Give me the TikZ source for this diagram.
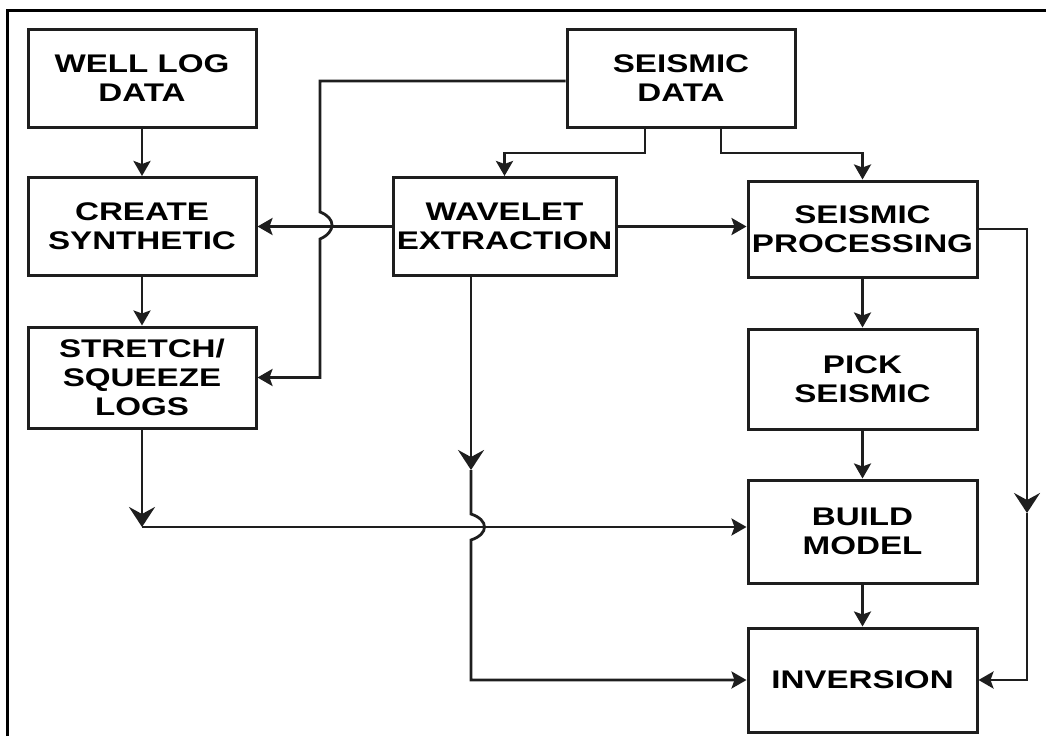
\documentclass[tikz,border=0pt]{standalone}
\usepackage{fontspec}
\newfontfamily\bfont[FakeStretch=1.3]{Liberation Sans}
\usetikzlibrary{arrows.meta}
\definecolor{boxcol}{HTML}{1E1E1E}
\begin{document}
\begin{tikzpicture}[x=1pt,y=-1pt,
 box/.style={draw=boxcol, line width=3pt, minimum width=228pt, minimum height=98pt, inner sep=0pt, align=center, font=\bfont\bfseries\fontsize{25.5}{29}\selectfont},
 conn/.style={draw=boxcol, line width=2.8pt},
 arr/.style={conn, -{Stealth[length=15pt,width=17pt,inset=3pt]}},
 bigarr/.style={conn, -{Stealth[length=20pt,width=26pt,inset=7pt]}},
 frame/.style={draw=black, line width=3pt}
]
\useasboundingbox (0,0) rectangle (1046,736);
\draw[frame] (7,736) -- (7,10) -- (1046,10);

\node[box] (well) at (142,78.5) {WELL LOG\\DATA};
\node[box] (seis) at (681,78.5) {SEISMIC\\DATA};
\node[box] (create) at (142,226.5) {CREATE\\SYNTHETIC};
\node[box, minimum width=223pt] (wave) at (504.5,226.5) {WAVELET\\EXTRACTION};
\node[box, minimum width=229pt, minimum height=96pt] (proc) at (862.5,229) {SEISMIC\\PROCESSING};
\node[box, minimum height=101pt] (stretch) at (142,377.5) {STRETCH/\\SQUEEZE\\LOGS};
\node[box, minimum width=229pt, minimum height=100pt] (pick) at (862.5,379) {PICK\\SEISMIC};
\node[box, minimum width=229pt, minimum height=103pt] (build) at (862.5,531.5) {BUILD\\MODEL};
\node[box, minimum width=229pt, minimum height=104pt] (inv) at (862.5,680) {INVERSION};

% straight arrows
\draw[arr] (well) -- (create);
\draw[arr] (create) -- (stretch);
\draw[arr] (wave.west) -- (create.east);
\draw[arr] (wave.east) -- (wave.east -| proc.west);
\draw[arr] (proc) -- (pick);
\draw[arr] (pick) -- (build);
\draw[arr] (build) -- (inv);

% seismic data to wavelet and processing
\draw[arr] ([xshift=-36pt]seis.south) -- ++(0,24) -| (wave.north);
\draw[arr] ([xshift=40pt]seis.south) -- ++(0,24) -| (proc.north);

% seismic data loop to stretch/squeeze, jumping over the synthetic line
\coordinate (sl) at (320,81);
\draw[arr] (seis.west |- sl) -- (sl) -- (320,212) .. controls (336,218) and (336,232) .. (320,239) -- (sl |- stretch.east) -- (stretch.east);

% processing to inversion on the right
\coordinate (rc) at (1027,513);
\draw[bigarr] (proc.east) -- (proc.east -| rc) -- (rc);
\draw[arr] (rc) -- (rc |- inv.east) -- (inv.east);

% stretch/squeeze to build model
\coordinate (sj) at (142,527);
\draw[bigarr] (stretch.south) -- (sj);
\draw[arr] (sj) -- (sj -| build.west);

% wavelet to inversion, jumping over the build-model line
\coordinate (wm) at (471,470);
\draw[bigarr] (wave.south -| wm) -- (wm);
\draw[arr] (wm) -- (471,514) .. controls (489,520) and (489,534) .. (471,540) -- (wm |- inv.west) -- (inv.west);
\end{tikzpicture}
\end{document}
